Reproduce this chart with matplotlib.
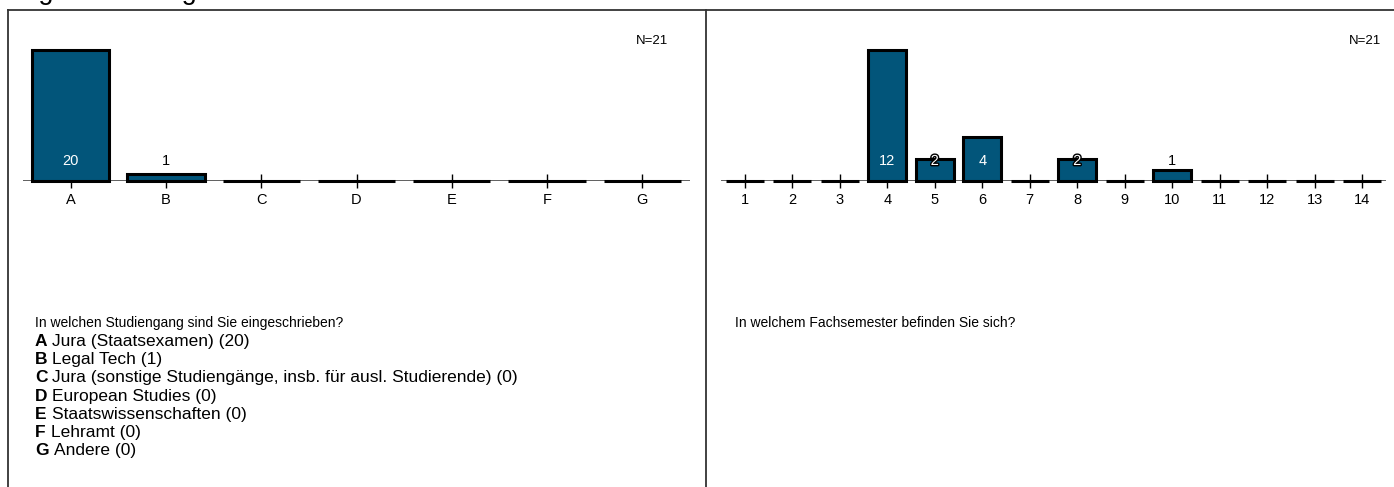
import matplotlib
matplotlib.use('Agg')
import matplotlib.pyplot as plt
import matplotlib.patheffects as pe

plt.rcParams['font.family'] = ['Liberation Sans', 'DejaVu Sans']

# data
study_codes = ['A', 'B', 'C', 'D', 'E', 'F', 'G']
study_names = ['Jura (Staatsexamen)', 'Legal Tech',
               'Jura (sonstige Studiengänge, insb. für ausl. Studierende)',
               'European Studies', 'Staatswissenschaften', 'Lehramt', 'Andere']
study_counts = [20, 1, 0, 0, 0, 0, 0]
study_question = 'In welchen Studiengang sind Sie eingeschrieben?'

semesters = [str(i) for i in range(1, 15)]
semester_counts = [0, 0, 0, 12, 2, 4, 0, 2, 0, 1, 0, 0, 0, 0]
semester_question = 'In welchem Fachsemester befinden Sie sich?'

title = 'Allgemeine Angaben'
BAR = '#02557a'
W, H = 1394, 487

fig = plt.figure(figsize=(W / 100, H / 100), dpi=100)


def px(x0, y0, x1, y1):
    # pixel box (top-left origin) -> figure fraction rect
    return [x0 / W, 1 - y1 / H, (x1 - x0) / W, (y1 - y0) / H]


def bar_panel(rect, labels, counts):
    ax = fig.add_axes(rect)
    xs = range(len(labels))
    ax.bar(xs, counts, width=0.81, color=BAR, edgecolor='black',
           linewidth=2.2, clip_on=False, zorder=3)
    ax.axhline(0, color='#444444', linewidth=1.2, zorder=2)
    ax.set_xlim(-0.5, len(labels) - 0.5)
    ax.set_ylim(0, max(counts))
    for s in ax.spines.values():
        s.set_visible(False)
    ax.set_yticks([])
    ax.set_xticks(list(xs))
    ax.set_xticklabels(labels, fontsize=10.5)
    ax.tick_params(axis='x', direction='inout', length=10, width=1,
                   color='black', pad=4)
    # value labels sit a fixed distance above the baseline
    bar_px = ax.get_window_extent().height / max(counts)
    for x, c in zip(xs, counts):
        if c == 0:
            continue
        h = c * bar_px
        t = ax.annotate(str(c), xy=(x, 0), xytext=(0, 20),
                        textcoords='offset pixels', ha='center', va='center',
                        fontsize=10.5, zorder=5)
        if h > 27:
            t.set_color('white')
        elif h > 13:
            t.set_color('white')
            t.set_path_effects([pe.withStroke(linewidth=2, foreground='black')])
        else:
            t.set_color('black')
    return ax


bar_panel(px(23, 50, 690, 181), study_codes, study_counts)
bar_panel(px(721, 50, 1386, 181), semesters, semester_counts)

fig.text(668 / W, 1 - 41 / H, f'N={sum(study_counts)}', ha='right',
         va='center', fontsize=9.5)
fig.text(1381 / W, 1 - 41 / H, f'N={sum(semester_counts)}', ha='right',
         va='center', fontsize=9.5)

# question texts + legend
fig.text(35 / W, 1 - 323 / H, study_question, va='center', fontsize=10)
for i, (code, name, c) in enumerate(zip(study_codes, study_names, study_counts)):
    y = 1 - (341.5 + i * 18.2) / H
    lt = fig.text(35 / W, y, code, va='center', fontsize=12.5, fontweight='bold')
    plt.annotate(f'{name} ({c})', xy=(1, 0.5), xycoords=lt, xytext=(5, 0),
                 textcoords='offset pixels', va='center', fontsize=12.5,
                 annotation_clip=False)
fig.text(735 / W, 1 - 323 / H, semester_question, va='center', fontsize=10)

# frame lines
frame = dict(color='#333333', linewidth=1.3, transform=fig.transFigure)
fig.add_artist(plt.Line2D([8 / W, 1], [1 - 10 / H] * 2, **frame))
fig.add_artist(plt.Line2D([8 / W] * 2, [0, 1 - 10 / H], **frame))
fig.add_artist(plt.Line2D([706 / W] * 2, [0, 1 - 10 / H], **frame))

# section title, cut off at the top edge as in the source
fig.text(8 / W, 1 + 0.5 / H, title, va='baseline', fontsize=19.5)

fig.savefig('out.png', dpi=100)
